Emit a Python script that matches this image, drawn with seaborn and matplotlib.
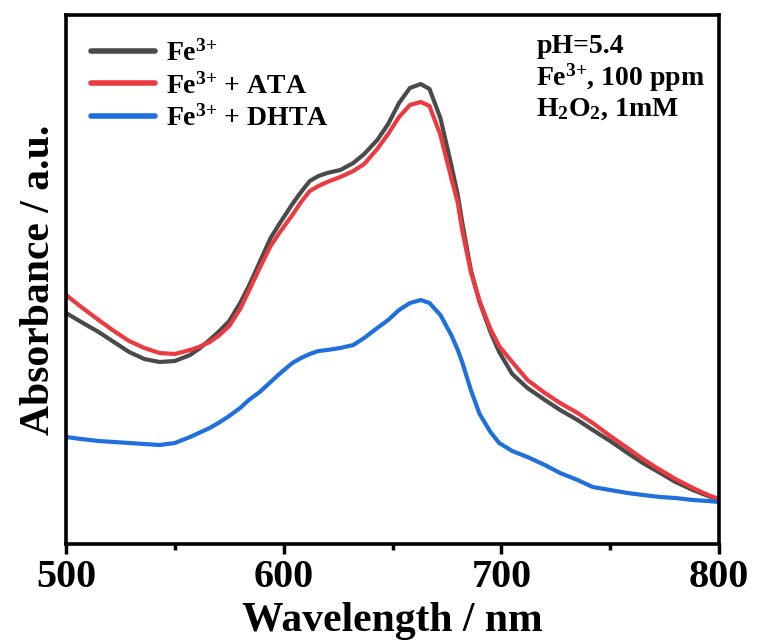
import numpy as np
import pandas as pd
import matplotlib
matplotlib.use("Agg")
import matplotlib.pyplot as plt
import seaborn as sns

wavelength = [500, 507, 515, 522, 529, 536, 543, 550, 557, 561,
              566, 570, 575, 580, 584, 589, 594, 598, 604, 608,
              612, 616, 620, 626, 632, 637, 643, 648, 653, 658,
              663, 667, 672, 677, 680, 682, 686, 690, 695, 699,
              705, 712, 720, 727, 735, 742, 750, 758, 765, 773,
              780, 788, 795, 800]
fe = [0.462, 0.444, 0.424, 0.404, 0.384, 0.370, 0.364, 0.366, 0.378, 0.390,
      0.408, 0.424, 0.446, 0.482, 0.516, 0.564, 0.612, 0.640, 0.680, 0.704,
      0.726, 0.736, 0.742, 0.748, 0.762, 0.780, 0.808, 0.840, 0.882, 0.912,
      0.920, 0.910, 0.852, 0.758, 0.698, 0.644, 0.548, 0.484, 0.424, 0.384,
      0.340, 0.312, 0.288, 0.268, 0.248, 0.228, 0.206, 0.182, 0.162, 0.142,
      0.124, 0.108, 0.096, 0.088]
fe_ata = [0.498, 0.474, 0.448, 0.426, 0.406, 0.392, 0.382, 0.380, 0.388, 0.394,
          0.404, 0.416, 0.436, 0.470, 0.506, 0.552, 0.596, 0.622, 0.658, 0.684,
          0.706, 0.716, 0.724, 0.734, 0.746, 0.760, 0.790, 0.820, 0.854, 0.878,
          0.884, 0.876, 0.818, 0.732, 0.682, 0.628, 0.544, 0.486, 0.430, 0.396,
          0.364, 0.328, 0.302, 0.282, 0.262, 0.242, 0.216, 0.192, 0.170, 0.148,
          0.130, 0.112, 0.098, 0.090]
fe_dhta = [0.214, 0.210, 0.206, 0.204, 0.202, 0.200, 0.198, 0.202, 0.214, 0.222,
           0.232, 0.242, 0.256, 0.272, 0.288, 0.304, 0.324, 0.340, 0.362, 0.372,
           0.380, 0.386, 0.388, 0.392, 0.398, 0.412, 0.432, 0.448, 0.468, 0.482,
           0.488, 0.482, 0.458, 0.418, 0.388, 0.364, 0.308, 0.260, 0.224, 0.202,
           0.186, 0.174, 0.158, 0.142, 0.128, 0.114, 0.108, 0.102, 0.098, 0.094,
           0.092, 0.088, 0.086, 0.084]
labels = [r"Fe$^{3{+}}$", r"Fe$^{3{+}}$ + ATA", r"Fe$^{3{+}}$ + DHTA"]
colors = ["#4a4a4a", "#ec3b40", "#1f6fdc"]
x_ticks = [500, 600, 700, 800]
annot_lines = ["pH=5.4", r"Fe$^{3{+}}$, 100 ppm", r"H$_2$O$_2$, 1mM"]

sns.set_style("ticks")
plt.rcParams["font.family"] = ["Liberation Serif", "DejaVu Serif"]
plt.rcParams["font.weight"] = "bold"
plt.rcParams["text.color"] = "black"
plt.rcParams["axes.labelcolor"] = "black"
plt.rcParams["xtick.color"] = "black"
plt.rcParams["ytick.color"] = "black"
plt.rcParams["mathtext.fontset"] = "custom"
plt.rcParams["mathtext.rm"] = "Liberation Serif:bold"
plt.rcParams["mathtext.it"] = "Liberation Serif:bold"
plt.rcParams["mathtext.bf"] = "Liberation Serif:bold"
plt.rcParams["mathtext.default"] = "rm"

n = len(wavelength)
df = pd.DataFrame({
    "Wavelength": wavelength * 3,
    "Absorbance": fe + fe_ata + fe_dhta,
    "Sample": [labels[0]] * n + [labels[1]] * n + [labels[2]] * n,
})

fig = plt.figure(figsize=(7.59, 6.44), dpi=100)
ax = fig.add_axes([66 / 759, 1 - 544 / 644, 653 / 759, 529 / 644])
sns.lineplot(data=df, x="Wavelength", y="Absorbance", hue="Sample",
             palette=dict(zip(labels, colors)), linewidth=3.0, ax=ax, legend=True)

ax.set_xlim(500, 800)
ax.set_ylim(0, 1.058)
ax.set_xticks(x_ticks)
ax.set_xticklabels([str(t) for t in x_ticks])
ax.set_xticks([550, 650, 750], minor=True)
ax.set_yticks([])
ax.tick_params(axis="x", which="major", direction="out", length=7, width=2.5,
               labelsize=29, pad=4, colors="black")
ax.tick_params(axis="x", which="minor", direction="out", length=4, width=2.5, colors="black")
for lbl in ax.get_xticklabels():
    lbl.set_fontweight("bold")
for s in ax.spines.values():
    s.set_linewidth(2.6)
    s.set_color("black")
ax.set_xlabel("Wavelength / nm", fontsize=30, fontweight="bold", labelpad=4, color="black")
ax.set_ylabel("Absorbance / a.u.", fontsize=30, fontweight="bold", labelpad=6, color="black")

leg = ax.legend(loc="upper left", bbox_to_anchor=(0.008, 0.99), frameon=False,
                fontsize=20, handlelength=2.3, handletextpad=0.4, labelspacing=0.23,
                borderaxespad=0.3)
for line in leg.get_lines():
    line.set_linewidth(4)
for t in leg.get_texts():
    t.set_fontweight("bold")
    t.set_color("black")

ax.text(0.72, 0.965, "\n".join(annot_lines), transform=ax.transAxes, ha="left", va="top",
        fontsize=20, fontweight="bold", linespacing=1.13, color="black")

fig.savefig("out.png", dpi=100)
